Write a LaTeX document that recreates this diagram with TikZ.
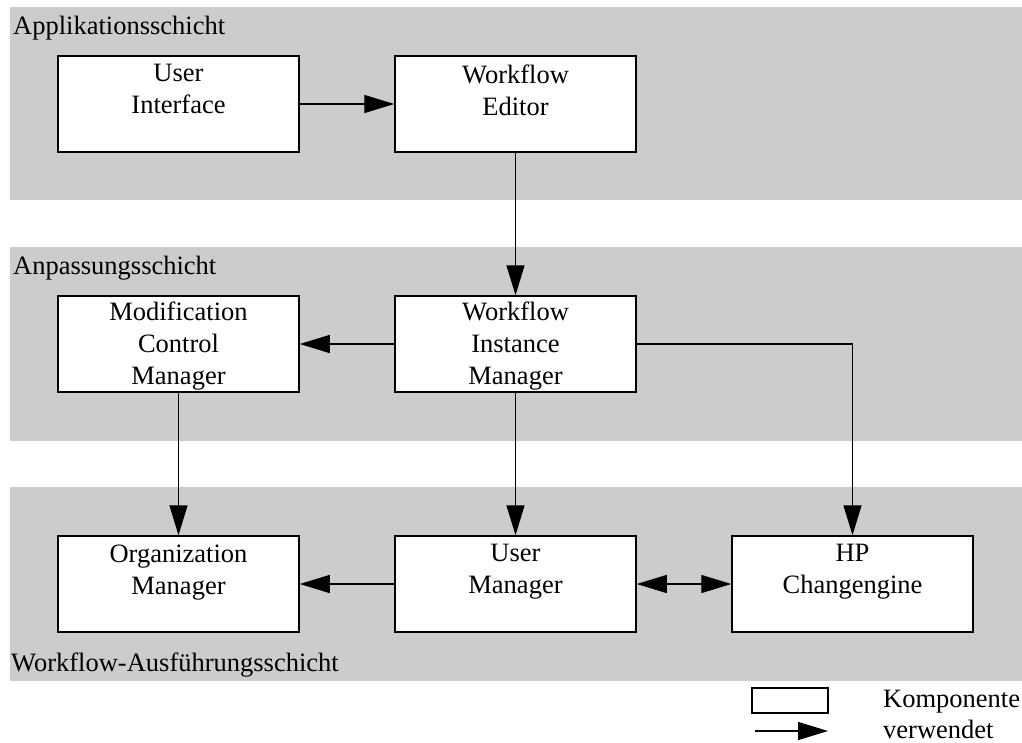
\documentclass[tikz,border=0pt]{standalone}
\usepackage{fontspec}
\setmainfont{Liberation Serif}
\usetikzlibrary{arrows.meta}
\definecolor{layergray}{RGB}{204,204,204}
\begin{document}
\begin{tikzpicture}[x=1pt,y=-1pt,
  txt/.style={font=\fontsize{26.5}{32}\selectfont, inner sep=0pt},
  layer/.style={fill=layergray, draw=none},
  comp/.style={draw, fill=white, line width=1.5pt, minimum width=241pt, minimum height=96pt, inner sep=0pt},
  comptext/.style={txt, align=center, anchor=north},
  uses/.style={line width=1.4pt, -{Triangle[length=30pt,width=18pt]}},
  both/.style={line width=1.4pt, {Triangle[length=30pt,width=18pt]}-{Triangle[length=30pt,width=18pt]}}
]
\useasboundingbox (0,0) rectangle (1022,742);

% layers
\fill[layer] (10,7) rectangle (1022,200);
\fill[layer] (10,247) rectangle (1022,441);
\fill[layer] (10,487) rectangle (1022,681);
\node[txt, anchor=base west] (l1) at (13,34) {Applikationsschicht};
\node[txt, anchor=base west] (l2) at (13,274) {Anpassungsschicht};
\node[txt, anchor=base west] (l3) at (11,671) {Workflow-Ausführungsschicht};

% components
\node[comp] (ui)  at (178.5,104) {};
\node[comp] (we)  at (515.5,104) {};
\node[comp] (mcm) at (178.5,344) {};
\node[comp] (wim) at (515.5,344) {};
\node[comp] (om)  at (178.5,584) {};
\node[comp] (um)  at (515.5,584) {};
\node[comp] (hp)  at (852.5,584) {};

\node[comptext] (ui-t)  at ([yshift=-9pt]ui.north)  {User\\Interface};
\node[comptext] (we-t)  at ([yshift=-9pt]we.north)  {Workflow\\Editor};
\node[comptext] (mcm-t) at ([yshift=-6pt]mcm.north) {Modification\\Control\\Manager};
\node[comptext] (wim-t) at ([yshift=-6pt]wim.north) {Workflow\\Instance\\Manager};
\node[comptext] (om-t)  at ([yshift=-9pt]om.north)  {Organization\\Manager};
\node[comptext] (um-t)  at ([yshift=-9pt]um.north)  {User\\Manager};
\node[comptext] (hp-t)  at ([yshift=-9pt]hp.north)  {HP\\Changengine};

% uses relations
\draw[uses] (ui) -- (we);
\draw[uses] (we) -- (wim);
\draw[uses] (wim) -- (mcm);
\draw[uses] (wim.east) -| (hp.north);
\draw[uses] (mcm) -- (om);
\draw[uses] (wim) -- (um);
\draw[uses] (um) -- (om);
\draw[both] (um) -- (hp);

% legend
\node[draw, line width=1.4pt, minimum width=76pt, minimum height=25pt, inner sep=0pt] (lgbox) at (790,700.5) {};
\coordinate (lga) at (755,731);
\coordinate (lgb) at (828,731);
\draw[uses] (lga) -- (lgb);
\node[txt, anchor=base west] (lgk) at (883,707) {Komponente};
\node[txt, anchor=base west] (lgv) at (883,738) {verwendet};
\end{tikzpicture}
\end{document}
